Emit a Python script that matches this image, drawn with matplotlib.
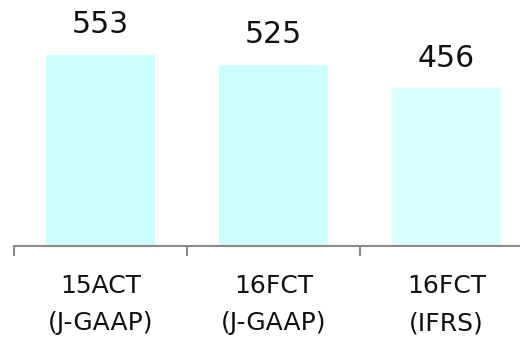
import matplotlib
matplotlib.use("Agg")
import matplotlib.pyplot as plt
import numpy as np

# 売上高の推移
categories = ["15ACT\n(J-GAAP)", "16FCT\n(J-GAAP)", "16FCT\n(IFRS)"]
values = [553, 525, 456]
bar_colors = ["#CCFFFF", "#CCFFFF", "#DAFFFF"]

plt.rcParams["font.family"] = ["DejaVu Sans"]

fig = plt.figure(figsize=(5.2, 3.4), dpi=100)
ax = fig.add_axes([14 / 520, 94 / 340, 519 / 520, 246 / 340])

x = np.arange(len(values))
bars = ax.bar(x, values, width=0.63, color=bar_colors)

for xi, v in zip(x, values):
    ax.text(xi, v + 46, str(v), ha="center", va="bottom", fontsize=21.5, color="#111111")

ax.set_xlim(-0.5, 2.5)
ax.set_ylim(0, 712)

for s in ["left", "top", "right"]:
    ax.spines[s].set_visible(False)
ax.spines["bottom"].set_color("#8a8a8a")
ax.spines["bottom"].set_linewidth(1.5)

ax.set_yticks([])
# 区切りの目盛りと中央のラベル
ax.set_xticks([-0.5, 0.5, 1.5, 2.5])
ax.set_xticklabels([])
ax.tick_params(axis="x", which="major", length=7.5, width=1.5, color="#8a8a8a")
ax.set_xticks(x, minor=True)
ax.set_xticklabels(categories, minor=True, fontsize=18, linespacing=1.7)
ax.tick_params(axis="x", which="minor", length=0, pad=20, labelcolor="#111111")

fig.savefig("out.png", dpi=100)
